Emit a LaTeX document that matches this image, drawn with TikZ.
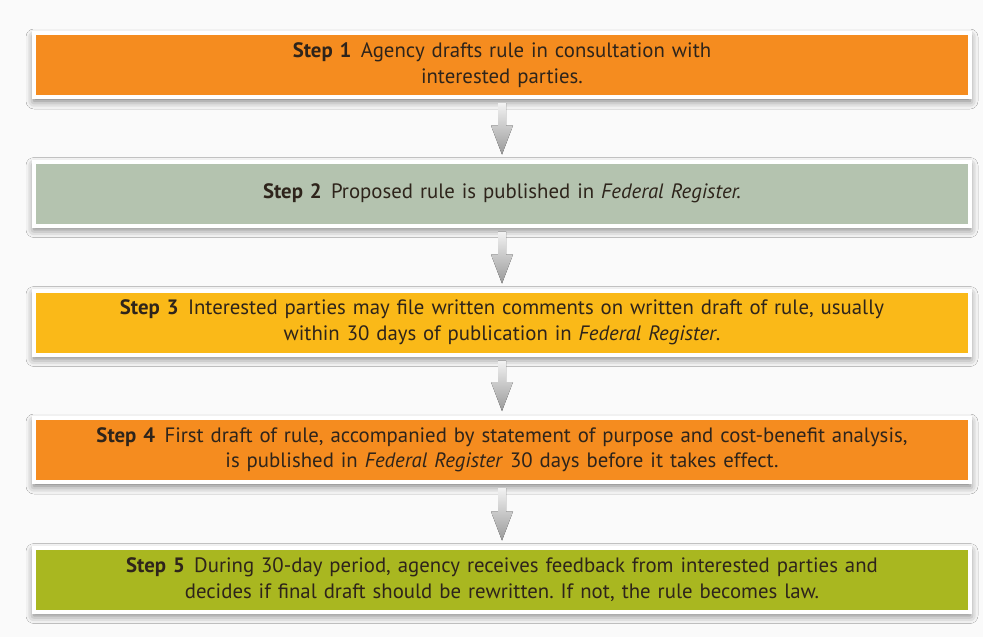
\documentclass[tikz,border=0pt]{standalone}
\usepackage{fontspec}
\setmainfont{PT Sans}
\usetikzlibrary{calc,shadows.blur}
\definecolor{orangeA}{HTML}{F58C1F}
\definecolor{sageA}{HTML}{B4C3AF}
\definecolor{yellowA}{HTML}{FAB918}
\definecolor{oliveA}{HTML}{A9B720}
\definecolor{txtA}{HTML}{2E241B}
\definecolor{bgA}{HTML}{FAFAFA}
\tikzset{
  stepbox/.style={draw=white, line width=4pt, minimum width=936pt, minimum height=64pt,
    inner sep=0pt, text width=920pt, align=center, text=txtA,
    font=\fontsize{20.8}{25.5}\selectfont,
    blur shadow={shadow xshift=0pt, shadow yshift=-4pt, shadow blur radius=8pt, shadow opacity=55}},
  flowarrow/.style={top color=gray!10, bottom color=gray!80, draw=none}
}
\newcommand{\stp}[1]{\textbf{Step #1}\hspace{0.45em}}
\begin{document}
\frenchspacing
\begin{tikzpicture}[x=1pt,y=-1pt]
\useasboundingbox (0,0) rectangle (983,637);
\fill[bgA] (0,0) rectangle (983,637);
\node[stepbox, fill=orangeA] (b1) at (502,65) {\stp{1}Agency drafts rule in consultation with\\ interested parties.};
\node[stepbox, fill=sageA] (b2) at (502,193.5) {\stp{2}Proposed rule is published in \textit{Federal Register.}};
\node[stepbox, fill=yellowA] (b3) at (502,322.5) {\stp{3}Interested parties may file written comments on written draft of rule, usually\\ within 30 days of publication in \textit{Federal Register}.};
\node[stepbox, fill=orangeA] (b4) at (502,450) {\stp{4}First draft of rule, accompanied by statement of purpose and cost-benefit analysis,\\ is published in \textit{Federal Register} 30 days before it takes effect.};
\node[stepbox, fill=oliveA] (b5) at (502,579.5) {\stp{5}During 30-day period, agency receives feedback from interested parties and\\ decides if final draft should be rewritten. If not, the rule becomes law.};
\foreach \a/\b in {b1/b2,b2/b3,b3/b4,b4/b5}{
  \fill[flowarrow]
    ($(\a.south)+(-4,4)$) -- ($(\a.south)+(4,4)$) --
    ($(\b.north)+(4,-34)$) -- ($(\b.north)+(11,-34)$) --
    ($(\b.north)+(0,-5)$) --
    ($(\b.north)+(-11,-34)$) -- ($(\b.north)+(-4,-34)$) -- cycle;
}
\end{tikzpicture}
\end{document}
